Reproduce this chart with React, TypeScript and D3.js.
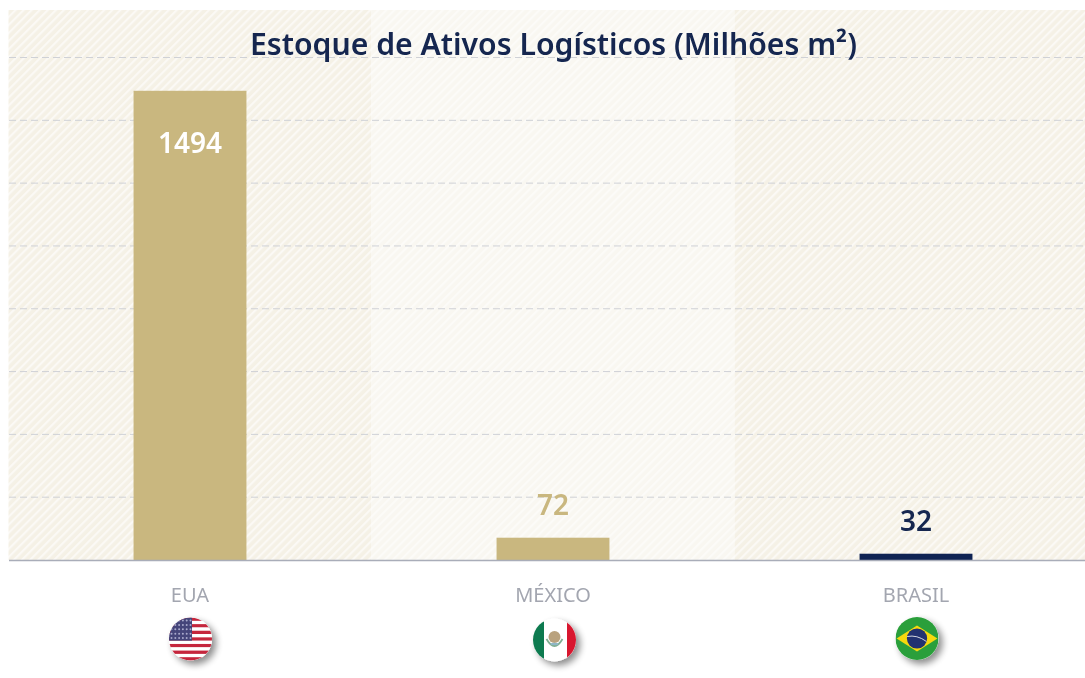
import React from "react";
import * as d3 from "d3";

const title = "Estoque de Ativos Logísticos (Milhões m²)";
const categories = ["EUA", "MÉXICO", "BRASIL"];
const labelValues = [1494, 72, 32];
// Heights as drawn in the picture (the Brasil bar is shorter than its label says)
const barValues = [1494, 71, 20];
const gridTicks = [0, 200, 400, 600, 800, 1000, 1200, 1400, 1600];

const W = 1085;
const H = 678;
const NAVY = "#12254f";
const GOLD = "#c9b77f";
const FONT = "'Noto Sans', sans-serif";

const x = d3.scaleBand<string>().domain(categories).range([8.5, 1097.5]);
const y = d3.scaleLinear().domain([0, 1600]).range([560, 57.5]);
const PLOT_TOP = 10;
const BAR_W = x.bandwidth() * 0.311;

const barColors = [GOLD, GOLD, "#0f2353"];
const labelColors = ["#ffffff", GOLD, NAVY];

function Flag({ cx, cy, r, id, children }: { cx: number; cy: number; r: number; id: string; children: React.ReactNode }) {
  return (
    <g filter="url(#flagShadow)">
      <clipPath id={id}>
        <circle cx={cx} cy={cy} r={r} />
      </clipPath>
      <circle cx={cx} cy={cy} r={r} fill="#fff" />
      <g clipPath={`url(#${id})`}>{children}</g>
    </g>
  );
}

function USFlag({ cx, cy, r }: { cx: number; cy: number; r: number }) {
  const stripeH = (2 * r) / 13;
  const stripes = d3.range(13);
  const stars = d3.range(5).flatMap((row) => d3.range(6).map((c) => [c, row]));
  return (
    <Flag cx={cx} cy={cy} r={r} id="clipUS">
      {stripes.map((i) => (
        <rect key={i} x={cx - r} y={cy - r + i * stripeH} width={2 * r} height={stripeH + 0.2} fill={i % 2 === 0 ? "#c5283d" : "#ffffff"} />
      ))}
      <rect x={cx - r} y={cy - r} width={r * 1.07} height={stripeH * 7} fill="#45457a" />
      {stars.map(([c, row]) => (
        <circle key={`${c}-${row}`} cx={cx - r + 2.5 + c * 3.8} cy={cy - r + 3 + row * 4.4} r={1} fill="#a9a9cc" />
      ))}
    </Flag>
  );
}

function MXFlag({ cx, cy, r }: { cx: number; cy: number; r: number }) {
  return (
    <Flag cx={cx} cy={cy} r={r} id="clipMX">
      <rect x={cx - r} y={cy - r} width={r - 10.5} height={2 * r} fill="#0f7a4f" />
      <rect x={cx + 12.5} y={cy - r} width={r} height={2 * r} fill="#d8182f" />
      <circle cx={cx} cy={cy - 3} r={6} fill="#b9a27e" />
      <path d={`M${cx - 8} ${cy - 1} Q${cx} ${cy + 13} ${cx + 8} ${cy - 1}`} fill="none" stroke="#7fae92" strokeWidth={1.8} />
      <ellipse cx={cx} cy={cy + 4} rx={4} ry={1.2} fill="#8fb6c6" />
    </Flag>
  );
}

function BRFlag({ cx, cy, r }: { cx: number; cy: number; r: number }) {
  return (
    <Flag cx={cx} cy={cy} r={r} id="clipBR">
      <rect x={cx - r} y={cy - r} width={2 * r} height={2 * r} fill="#2a9f3a" />
      <path d={`M${cx - r * 0.95} ${cy} L${cx} ${cy - r * 0.6} L${cx + r * 0.95} ${cy} L${cx} ${cy + r * 0.6} Z`} fill="#f6d90f" />
      <circle cx={cx} cy={cy} r={r * 0.47} fill="#20306f" />
      <path d={`M${cx - r * 0.46} ${cy - 2} Q${cx} ${cy - 4} ${cx + r * 0.44} ${cy + 3}`} fill="none" stroke="#d5d8e2" strokeWidth={1} />
    </Flag>
  );
}

export default function App() {
  const bandFills = ["url(#hatchDark)", "url(#hatchLight)", "url(#hatchDark)"];
  return (
    <svg width={W} height={H} style={{ position: "absolute", left: 0, top: 0, background: "#fff" }} fontFamily={FONT}>
      <defs>
        <pattern id="hatchDark" width={5.7} height={5.7} patternUnits="userSpaceOnUse" patternTransform="rotate(45)">
          <rect width={5.7} height={5.7} fill="#f5f1e6" />
          <rect width={2.2} height={5.7} fill="#fbf9f5" />
        </pattern>
        <pattern id="hatchLight" width={5.7} height={5.7} patternUnits="userSpaceOnUse" patternTransform="rotate(45)">
          <rect width={5.7} height={5.7} fill="#f9f7f1" />
          <rect width={2.2} height={5.7} fill="#fcfbf8" />
        </pattern>
        <filter id="soft" x="-5%" y="-20%" width="110%" height="140%">
          <feGaussianBlur stdDeviation={0.45} />
        </filter>
        <filter id="flagShadow" x="-50%" y="-50%" width="220%" height="220%">
          <feGaussianBlur in="SourceAlpha" stdDeviation={3.5} result="b" />
          <feOffset in="b" dx={4} dy={4} result="o" />
          <feComponentTransfer in="o" result="s">
            <feFuncA type="linear" slope={0.45} />
          </feComponentTransfer>
          <feGaussianBlur in="SourceGraphic" stdDeviation={0.45} result="g" />
          <feMerge>
            <feMergeNode in="s" />
            <feMergeNode in="g" />
          </feMerge>
        </filter>
      </defs>

      {categories.map((c, i) => (
        <rect key={c} x={x(c)} y={PLOT_TOP} width={x.bandwidth()} height={y(0) - PLOT_TOP} fill={bandFills[i]} />
      ))}

      {gridTicks.filter((t) => t > 0).map((t) => (
        <line key={t} x1={9} x2={W} y1={y(t)} y2={y(t)} stroke="#cfd1d6" strokeWidth={1} strokeDasharray="7 4" />
      ))}

      {categories.map((c, i) => {
        const cx = x(c)! + x.bandwidth() / 2;
        return (
          <rect key={c} x={cx - BAR_W / 2} y={y(barValues[i])} width={BAR_W} height={y(0) - y(barValues[i])} fill={barColors[i]} />
        );
      })}

      <line x1={9} x2={W} y1={y(0) + 0.5} y2={y(0) + 0.5} stroke="#a9adb9" strokeWidth={1.6} />

      <g filter="url(#soft)">
        <text x={553.5} y={55} textAnchor="middle" fontSize={31} fontWeight={600} fill={NAVY} textLength={607} lengthAdjust="spacingAndGlyphs">
          {title}
        </text>
        {categories.map((c, i) => {
          const cx = x(c)! + x.bandwidth() / 2;
          const top = y(barValues[i]);
          const inside = i === 0;
          return (
            <text key={c} x={cx} y={inside ? top + 62 : top - 22.5} textAnchor="middle" fontSize={28} fontWeight={600} fill={labelColors[i]}>
              {labelValues[i]}
            </text>
          );
        })}
        {categories.map((c) => (
          <text key={c} x={x(c)! + x.bandwidth() / 2} y={602} textAnchor="middle" fontSize={20} fontWeight={400} fill="#a3a6b0">
            {c}
          </text>
        ))}
      </g>

      <USFlag cx={190.5} cy={639} r={21.5} />
      <MXFlag cx={554.5} cy={640} r={21.5} />
      <BRFlag cx={917} cy={638.5} r={21.5} />
    </svg>
  );
}
